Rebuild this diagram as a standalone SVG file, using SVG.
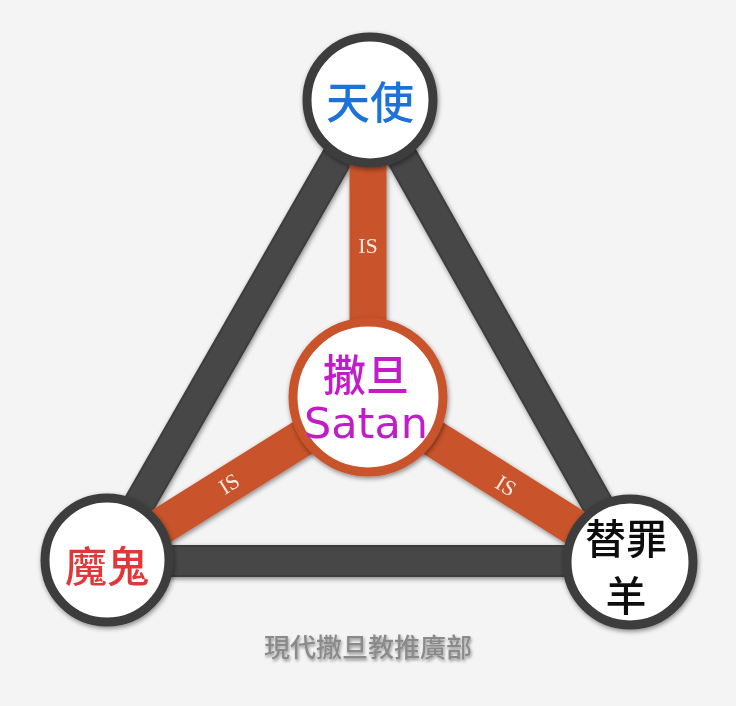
<svg xmlns="http://www.w3.org/2000/svg" width="736" height="706" viewBox="0 0 736 706">
<defs>
<filter id="sh" x="-20%" y="-20%" width="140%" height="140%">
<feGaussianBlur in="SourceAlpha" stdDeviation="2.5"/>
<feOffset dx="1" dy="2" result="b"/>
<feComponentTransfer><feFuncA type="linear" slope="0.45"/></feComponentTransfer>
<feMerge><feMergeNode/><feMergeNode in="SourceGraphic"/></feMerge>
</filter>
<filter id="tsh" x="-10%" y="-20%" width="120%" height="150%">
<feGaussianBlur in="SourceAlpha" stdDeviation="1.6"/>
<feOffset dx="1" dy="2"/>
<feComponentTransfer><feFuncA type="linear" slope="0.4"/></feComponentTransfer>
<feMerge><feMergeNode/><feMergeNode in="SourceGraphic"/></feMerge>
</filter>
</defs>
<style>
.dark{stroke:#3e3e3e;stroke-width:32;stroke-linecap:butt}
.darkhi{stroke:#555;stroke-width:28;stroke-linecap:butt}
.or{stroke:#c9522c;stroke-width:37;stroke-linecap:butt}
.node{fill:#fff;stroke:#3c3c3c;stroke-width:9}
.cnode{fill:#fff;stroke:#c9522c;stroke-width:9}
.cjk{font-family:"Noto Sans CJK TC","Noto Sans CJK SC",sans-serif;text-anchor:middle;font-weight:500}
.is{font-family:"Liberation Serif",serif;font-size:22px;fill:#f8ebe2;text-anchor:middle}
</style>
<rect width="736" height="706" fill="#f4f4f4"/>
<g id="connectors" filter="url(#sh)">
<line class="dark" x1="370" y1="100" x2="107" y2="560"/>
<line class="dark" x1="370" y1="100" x2="630" y2="562"/>
<line class="dark" x1="107" y1="561" x2="630" y2="561"/>
<line class="darkhi" x1="370" y1="100" x2="107" y2="560" opacity="0.35"/>
<line class="darkhi" x1="370" y1="100" x2="630" y2="562" opacity="0.35"/>
<line class="darkhi" x1="107" y1="561" x2="630" y2="561" opacity="0.35"/>
<line class="or" x1="368" y1="397" x2="368" y2="100"/>
<line class="or" x1="368" y1="397" x2="107" y2="560"/>
<line class="or" x1="368" y1="397" x2="630" y2="562"/>
<text class="is" x="368" y="253">IS</text>
<text class="is" transform="translate(233,490) rotate(-32)">IS</text>
<text class="is" transform="translate(502,492) rotate(32)">IS</text>
</g>
<g id="angel" filter="url(#sh)">
<circle class="node" cx="370" cy="100" r="63"/>
<text class="cjk" x="370" y="119" font-size="44" fill="#1f72d8">天使</text>
</g>
<g id="satan" filter="url(#sh)">
<circle class="cnode" cx="368" cy="397" r="75"/>
<text class="cjk" x="366" y="391" font-size="43" fill="#c11fc8">撒旦</text>
<text x="366" y="438" font-family="DejaVu Sans, sans-serif" font-size="43" fill="#c11fc8" text-anchor="middle">Satan</text>
</g>
<g id="devil" filter="url(#sh)">
<circle class="node" cx="107" cy="560" r="62"/>
<text class="cjk" x="107" y="582" font-size="42" fill="#e03838">魔鬼</text>
</g>
<g id="scapegoat" filter="url(#sh)">
<circle class="node" cx="630" cy="562" r="63"/>
<text class="cjk" font-size="41" fill="#111"><tspan x="626" y="554">替罪</tspan><tspan x="626" y="611">羊</tspan></text>
</g>
<g id="footer" filter="url(#tsh)">
<text class="cjk" x="368" y="657" font-size="26" font-weight="700" fill="#8a8a8a">現代撒旦教推廣部</text>
</g>
</svg>
